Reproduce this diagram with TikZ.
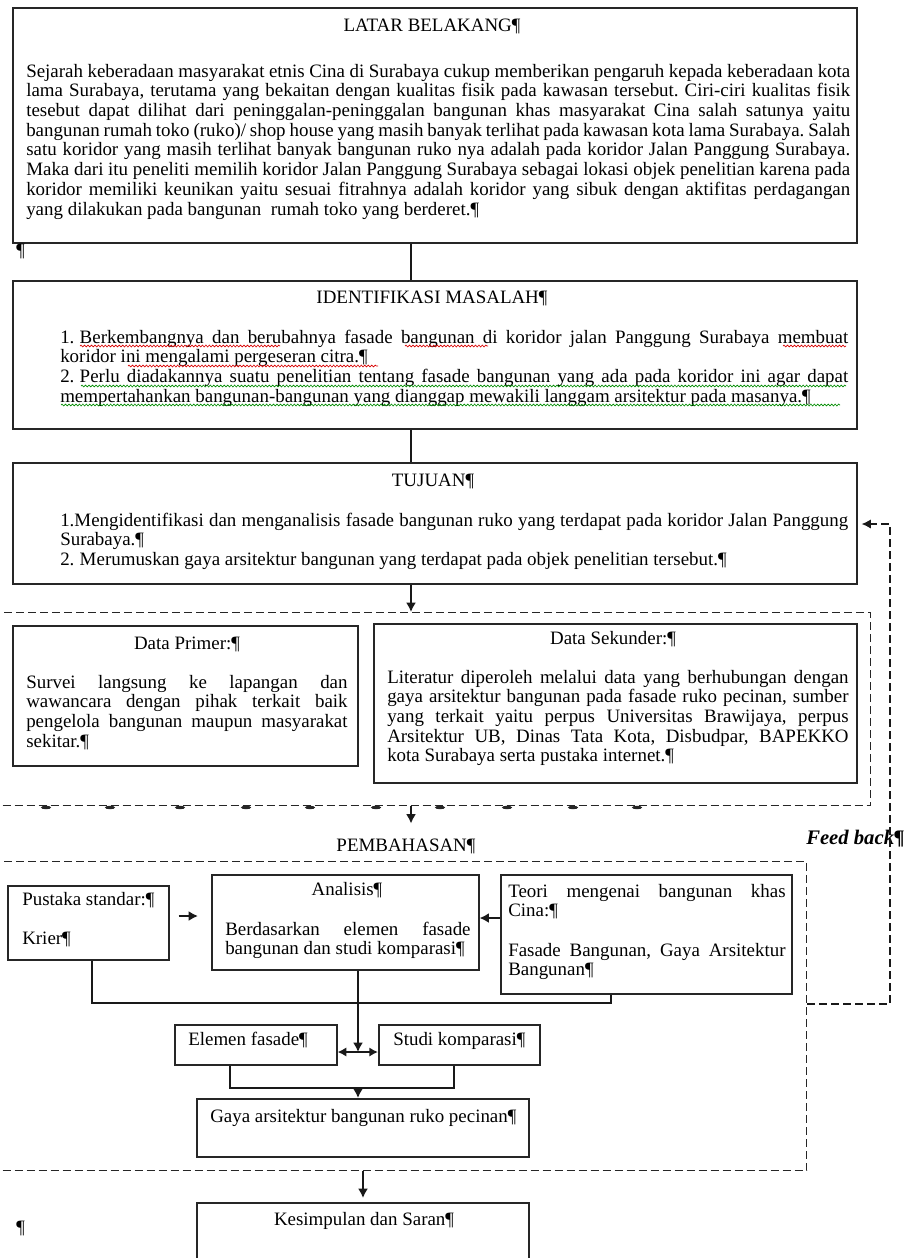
\documentclass[tikz,border=0pt]{standalone}
\usepackage{fontspec}
\setmainfont{Liberation Serif}
\usetikzlibrary{arrows.meta,decorations.pathmorphing}
\frenchspacing

\newcommand\jl[1]{\hbox to\hsize{#1}}
\newcommand\nl[1]{\hbox{#1}}
\newcommand\fsp{\hskip0.28em\relax}
\newcommand\bodytext[2]{\parbox[t]{#1}{\fontsize{14.2pt}{14.8pt}\selectfont\frenchspacing #2}}
\newcommand\mkbox[6]{\node[#6, anchor=north west, minimum width={((#4)-(#2))*0.75pt}, minimum height={((#5)-(#3))*0.75pt}] (#1) at (#2,#3) {};}

\tikzset{
  box/.style={draw=black!85, line width=1.2pt, inner sep=0pt, fill=none},
  dbox/.style={draw=black!85, line width=0.95pt, dash pattern=on 6pt off 3pt, inner sep=0pt},
  txt/.style={inner sep=0pt, text=black, font=\fontsize{14.2pt}{14.8pt}\selectfont},
  link/.style={draw=black!90, line width=1.9pt},
  thinlink/.style={draw=black!90, line width=1.2pt},
  arr/.style={draw=black!90, line width=1.4pt, -{Latex[length=7pt,width=7.5pt]}},
  thickarr/.style={draw=black!90, line width=2.1pt, -{Latex[length=7pt,width=7.5pt]}},
  dblarr/.style={draw=black!90, line width=1.4pt, {Latex[length=6.5pt,width=7pt]}-{Latex[length=6.5pt,width=7pt]}},
  fbline/.style={draw=black!90, line width=0.95pt, dash pattern=on 6pt off 3pt, -{Latex[length=7pt,width=7pt]}, shorten >=3pt},
  squigR/.style={draw=red!85!black, line width=0.5pt, decorate, decoration={snake, segment length=2.6pt, amplitude=0.7pt}},
  squigG/.style={draw=green!55!black, line width=0.5pt, decorate, decoration={snake, segment length=2.6pt, amplitude=0.7pt}}
}

\begin{document}
\begin{tikzpicture}[x=0.75pt,y=-0.75pt]
\useasboundingbox (0,0) rectangle (908,1258);
\fill[white] (0,0) rectangle (908,1258);

% ---------- boxes ----------
\mkbox{latar}{12}{7}{856}{242}{box}
\mkbox{ident}{12}{280}{856}{428}{box}
\mkbox{tujuan}{12}{462}{856}{583}{box}
\mkbox{dreg}{-10}{612}{870}{805}{dbox}
\mkbox{primer}{12}{625}{357}{765}{box}
\mkbox{sekunder}{373}{623}{856}{782}{box}
\mkbox{preg}{-10}{861}{806}{1170}{dbox}
\mkbox{pustaka}{7}{885}{168}{959}{box}
\mkbox{analisis}{211}{874}{478}{969}{box}
\mkbox{teori}{500}{874}{791}{993}{box}
\mkbox{elemen}{174}{1024}{336}{1064}{box}
\mkbox{studi}{378}{1024}{539}{1064}{box}
\mkbox{gaya}{196}{1098}{528}{1156}{box}
\mkbox{kes}{196}{1202}{528}{1272}{box}

% ---------- texts ----------
\node[txt, anchor=base] (latarT) at (432,31) {LATAR BELAKANG¶};
\node[txt, anchor=base west] (latarB) at (26,77) {\bodytext{618pt}{%
\jl{Sejarah keberadaan masyarakat etnis Cina di Surabaya cukup memberikan pengaruh kepada keberadaan kota}
\jl{lama Surabaya, terutama yang bekaitan dengan kualitas fisik pada kawasan tersebut. Ciri-ciri kualitas fisik}
\jl{tesebut dapat dilihat dari peninggalan-peninggalan bangunan khas masyarakat Cina salah satunya yaitu}
\jl{bangunan rumah toko (ruko)/ shop house yang masih banyak terlihat pada kawasan kota lama Surabaya. Salah}
\jl{satu koridor yang masih terlihat banyak bangunan ruko nya adalah pada koridor Jalan Panggung Surabaya.}
\jl{Maka dari itu peneliti memilih koridor Jalan Panggung Surabaya sebagai lokasi objek penelitian karena pada}
\jl{koridor memiliki keunikan yaitu sesuai fitrahnya adalah koridor yang sibuk dengan aktifitas perdagangan}
\nl{yang dilakukan pada bangunan \ rumah toko yang berderet.¶}}};
\node[txt, anchor=base west] (para1) at (16,256) {¶};

\node[txt, anchor=base] (identT) at (432,303) {IDENTIFIKASI MASALAH¶};
\node[txt, anchor=base west] (identB) at (60,343) {\bodytext{591pt}{%
\jl{1.\fsp Berkembangnya dan berubahnya fasade bangunan di koridor jalan Panggung Surabaya membuat}
\nl{koridor ini mengalami pergeseran citra.¶}
\jl{2.\fsp Perlu diadakannya suatu penelitian tentang fasade bangunan yang ada pada koridor ini agar dapat}
\nl{mempertahankan bangunan-bangunan yang dianggap mewakili langgam arsitektur pada masanya.¶}}};

\node[txt, anchor=base] (tujuanT) at (433,486) {TUJUAN¶};
\node[txt, anchor=base west] (tujuanB) at (60,526) {\bodytext{591pt}{%
\jl{1.Mengidentifikasi dan menganalisis fasade bangunan ruko yang terdapat pada koridor Jalan Panggung}
\nl{Surabaya.¶}
\nl{2.\fsp Merumuskan gaya arsitektur bangunan yang terdapat pada objek penelitian tersebut.¶}}};

\node[txt, anchor=base] (primerT) at (187,649) {Data Primer:¶};
\node[txt, anchor=base west] (primerB) at (26,688) {\bodytext{241pt}{%
\jl{Survei langsung ke lapangan dan}
\jl{wawancara dengan pihak terkait baik}
\jl{pengelola bangunan maupun masyarakat}
\nl{sekitar.¶}}};

\node[txt, anchor=base] (sekunderT) at (613,644) {Data Sekunder:¶};
\node[txt, anchor=base west] (sekunderB) at (387,683) {\bodytext{346pt}{%
\jl{Literatur diperoleh melalui data yang berhubungan dengan}
\jl{gaya arsitektur bangunan pada fasade ruko pecinan, sumber}
\jl{yang terkait yaitu perpus Universitas Brawijaya, perpus}
\jl{Arsitektur UB, Dinas Tata Kota, Disbudpar, BAPEKKO}
\nl{kota Surabaya serta pustaka internet.¶}}};

\node[txt, anchor=base] (pembT) at (406,851) {PEMBAHASAN¶};
\node[txt, anchor=base west, font=\fontsize{15.5pt}{16pt}\selectfont\bfseries\itshape] (fb) at (806,844) {Feed back¶};

\node[txt, anchor=base west] (pustakaB) at (22,905) {\bodytext{112pt}{%
\nl{Pustaka standar:¶}
\nl{}
\nl{Krier¶}}};

\node[txt, anchor=base] (analisisT) at (347,895) {Analisis¶};
\node[txt, anchor=base west] (analisisB) at (225,935) {\bodytext{184pt}{%
\jl{Berdasarkan elemen fasade}
\nl{bangunan dan studi komparasi¶}}};

\node[txt, anchor=base west] (teoriB) at (508,897) {\bodytext{208pt}{%
\jl{Teori mengenai bangunan khas}
\nl{Cina:¶}
\nl{}
\jl{Fasade Bangunan, Gaya Arsitektur}
\nl{Bangunan¶}}};

\node[txt, anchor=base west] (elemenT) at (188,1045) {Elemen fasade¶};
\node[txt, anchor=base west] (studiT) at (393,1045) {Studi komparasi¶};
\node[txt, anchor=base west] (gayaT) at (210,1122) {Gaya arsitektur bangunan ruko pecinan¶};
\node[txt, anchor=base] (kesT) at (364,1225) {Kesimpulan dan Saran¶};
\node[txt, anchor=base west] (para2) at (16,1233) {¶};

% ---------- spell-check marks ----------
\draw[squigR] (80,346) -- (280,346);
\draw[squigR] (405,346) -- (488,346);
\draw[squigR] (783,346) -- (846,346);
\draw[squigR] (128,366) -- (378,366);
\draw[squigG] (81,386) -- (846,386);
\draw[squigG] (61,405) -- (840,405);

% ---------- marks on dashed line ----------
\foreach \bx in {46,110,180,246,310,376,440,507,573,637}
  \fill[black!85] (\bx,807.5) ellipse [x radius=3.8pt, y radius=1.3pt];

% ---------- connectors ----------
\coordinate (colA) at (411,0);
\coordinate (colB) at (358,0);
\coordinate (colC) at (363,0);
\coordinate (pcol) at (92,0);
\coordinate (rowA) at (0,916);
\coordinate (rowB) at (0,918);
\coordinate (j1) at (611,1003);
\coordinate (dbl) at (358,1052);
\coordinate (j2) at (0,1088);
\coordinate (ec) at (230,0);
\coordinate (sc) at (454,0);
\coordinate (fbA) at (890,1004);
\coordinate (fbB) at (890,524);

\draw[link] (colA |- latar.south) -- (colA |- ident.north);
\draw[link] (colA |- ident.south) -- (colA |- tujuan.north);
\draw[arr] (colA |- tujuan.south) -- (colA |- dreg.north);
\draw[arr, shorten >=11pt] (colA |- dreg.south) -- (colA |- pembT.north);

\draw[arr, shorten <=6.75pt, shorten >=9.75pt] (pustaka.east |- rowA) -- (analisis.west |- rowA);
\draw[arr] (teori.west |- rowB) -- (analisis.east |- rowB);
\draw[thinlink] (pcol |- pustaka.south) -- (pcol |- j1) -- (j1) -- (j1 |- teori.south);
\draw[thickarr] (colB |- analisis.south) -- (dbl);
\draw[dblarr] (elemen.east |- dbl) -- (studi.west |- dbl);
\draw[thinlink] (ec |- elemen.south) -- (ec |- j2) -- (sc |- j2) -- (sc |- studi.south);
\draw[arr] (colB |- j2) -- (colB |- gaya.north);
\draw[arr, shorten >=3pt] (colC |- preg.south) -- (colC |- kes.north);

\draw[fbline] (preg.east |- fbA) -- (fbA) -- (fbB) -- (tujuan.east |- fbB);
\end{tikzpicture}
\end{document}
